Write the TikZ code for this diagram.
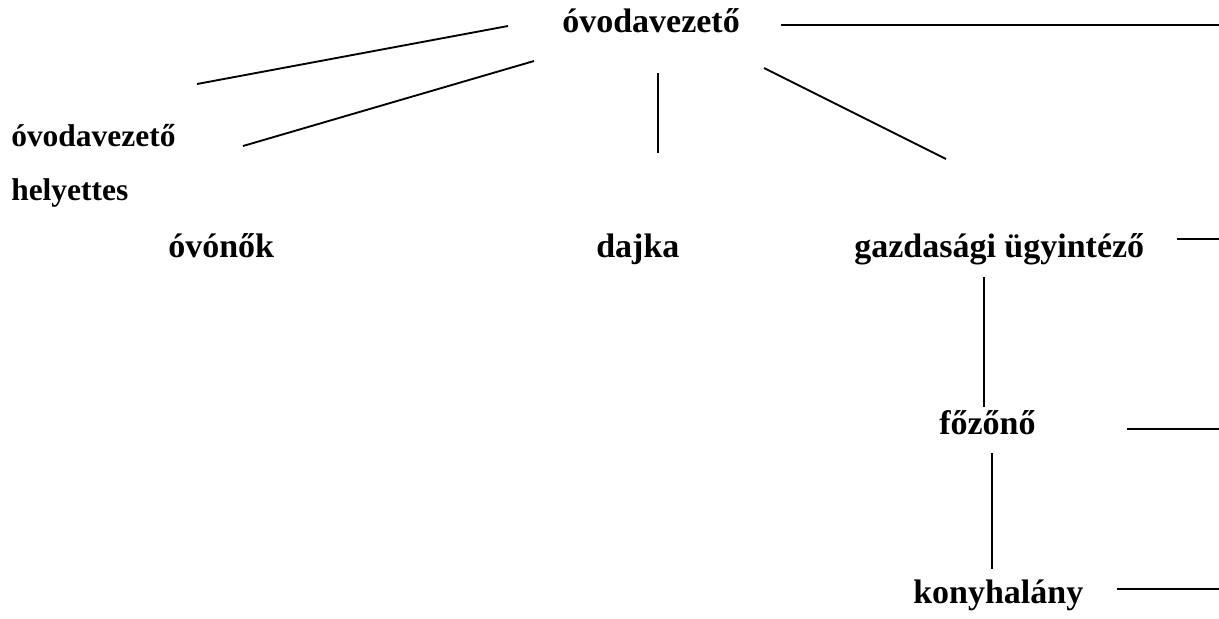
\documentclass[tikz,border=0pt]{standalone}
\usepackage{fontspec}
\setmainfont{Liberation Serif}
\begin{document}
\begin{tikzpicture}[x=0.75pt,y=-0.75pt,
  lbl/.style={inner sep=0pt,anchor=base west,font=\fontsize{25.5}{30}\selectfont\bfseries},
  lblsmall/.style={inner sep=0pt,anchor=base west,font=\fontsize{23.6}{28}\selectfont\bfseries},
  conn/.style={line width=1.4pt}]
\useasboundingbox[fill=white] (0,0) rectangle (1219,618);
% labels
\node[lbl] (head) at (562,32) {óvodavezető};
\node[lblsmall] (dep1) at (11,146) {óvodavezető};
\node[lblsmall] (dep2) at (11,200) {helyettes};
\node[lbl] (ovonok) at (168,257) {óvónők};
\node[lbl] (dajka) at (596,257) {dajka};
\node[lbl] (gazd) at (854,257) {gazdasági ügyintéző};
\node[lbl] (fozono) at (939,434) {főzőnő};
\node[lbl] (konyha) at (913,603) {konyhalány};
% connector end points
\coordinate (a1) at (197,84);  \coordinate (a2) at (508,26);
\coordinate (b1) at (243,146); \coordinate (b2) at (534,61);
\coordinate (c1) at (658,73);  \coordinate (c2) at (658,153);
\coordinate (d1) at (764,68);  \coordinate (d2) at (946,159);
\coordinate (e1) at (781,25);  \coordinate (e2) at (1219,25);
\coordinate (f1) at (1177,239); \coordinate (f2) at (1219,239);
\coordinate (g1) at (984,277); \coordinate (g2) at (984,407);
\coordinate (h1) at (1127,429); \coordinate (h2) at (1219,429);
\coordinate (i1) at (992,453); \coordinate (i2) at (992,569);
\coordinate (j1) at (1117,589); \coordinate (j2) at (1219,589);
\draw[conn] (a1) -- (a2);
\draw[conn] (b1) -- (b2);
\draw[conn] (c1) -- (c2);
\draw[conn] (d1) -- (d2);
\draw[conn] (e1) -- (e2);
\draw[conn] (f1) -- (f2);
\draw[conn] (g1) -- (g2);
\draw[conn] (h1) -- (h2);
\draw[conn] (i1) -- (i2);
\draw[conn] (j1) -- (j2);
\end{tikzpicture}
\end{document}
